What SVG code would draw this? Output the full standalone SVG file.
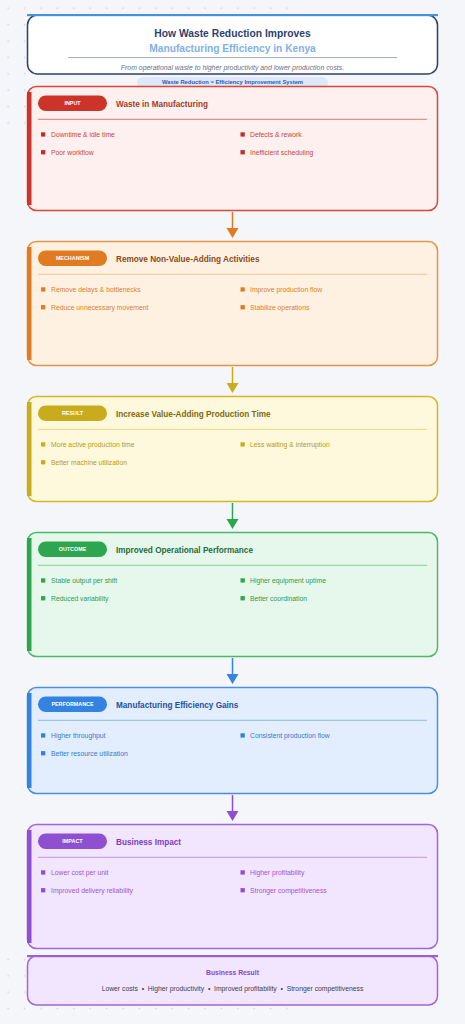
<svg xmlns="http://www.w3.org/2000/svg" width="465" height="1024" viewBox="0 0 465 1024">
<defs>
<pattern id="dots" x="0" y="0" width="16.4" height="16.4" patternUnits="userSpaceOnUse">
<path d="M8.2 7.2v2M7.2 8.2h2" stroke="#d3d9e8" stroke-width="0.9"/>
</pattern>
<style>
text{font-family:"Liberation Sans",Arial,sans-serif}
.pill{font-size:5.4px;font-weight:bold;fill:#fff;text-anchor:middle}
.ttl{font-size:8.2px;font-weight:bold}
.it{font-size:6.8px}
</style>
</defs>
<rect width="465" height="1024" fill="#f5f6fa"/>
<rect x="0" y="0" width="295" height="132" fill="url(#dots)"/>
<rect x="0" y="948" width="295" height="76" fill="url(#dots)"/>

<g id="header">
<rect x="27.5" y="15" width="410" height="59" rx="10" fill="#fff" stroke="#2d3f6e" stroke-width="1.5"/>
<rect x="27" y="14" width="411" height="2.2" fill="#4a90e2"/>
<text x="232.5" y="36.7" text-anchor="middle" font-size="10.3" font-weight="bold" fill="#2d3f6e">How Waste Reduction Improves</text>
<text x="232.5" y="51.7" text-anchor="middle" font-size="10.2" font-weight="bold" fill="#7fb0ec">Manufacturing Efficiency in Kenya</text>
<line x1="68" y1="57.6" x2="397" y2="57.6" stroke="#8a8fa6" stroke-width="0.8"/>
<text x="232.5" y="69.5" text-anchor="middle" font-size="6.9" font-style="italic" fill="#6b6f80">From operational waste to higher productivity and lower production costs.</text>
</g>

<g id="system-badge">
<rect x="137" y="77" width="191" height="11" rx="5.5" fill="#dde9fb"/>
<text x="232.5" y="84.2" text-anchor="middle" font-size="5.8" font-weight="bold" fill="#2a5bb5">Waste Reduction = Efficiency Improvement System</text>
</g>

<g id="connectors" stroke-width="1.5">
<line x1="232.5" y1="212" x2="232.5" y2="229" stroke="#e07b22"/>
<polygon points="226.5,228 238.5,228 232.5,238" fill="#e07b22"/>
<line x1="232.5" y1="367" x2="232.5" y2="384" stroke="#c9ac1e"/>
<polygon points="226.5,383 238.5,383 232.5,393" fill="#c9ac1e"/>
<line x1="232.5" y1="503" x2="232.5" y2="520" stroke="#2ea64f"/>
<polygon points="226.5,519 238.5,519 232.5,529" fill="#2ea64f"/>
<line x1="232.5" y1="658" x2="232.5" y2="675" stroke="#3583e0"/>
<polygon points="226.5,674 238.5,674 232.5,684" fill="#3583e0"/>
<line x1="232.5" y1="795" x2="232.5" y2="812" stroke="#8e4fd1"/>
<polygon points="226.5,811 238.5,811 232.5,821" fill="#8e4fd1"/>
</g>

<g id="input" transform="translate(0,86)">
<rect x="27.5" y="0.5" width="410" height="124" rx="9" fill="#fff0f0" stroke="#d9473b" stroke-width="1.5"/>
<rect x="27" y="6" width="4.5" height="113" fill="#cc3329"/>
<rect x="38" y="9.5" width="69" height="15.5" rx="7.75" fill="#cc3329"/>
<text class="pill" x="72.5" y="19.2">INPUT</text>
<text class="ttl" x="116" y="20.5" fill="#a33b26">Waste in Manufacturing</text>
<line x1="38" y1="33.3" x2="427" y2="33.3" stroke="#e06a5e" stroke-width="0.9"/>
<g fill="#c0302a"><rect x="41" y="46.3" width="4.3" height="4.3"/><rect x="41" y="64.1" width="4.3" height="4.3"/><rect x="240.5" y="46.3" width="4.3" height="4.3"/><rect x="240.5" y="64.1" width="4.3" height="4.3"/></g>
<g class="it" fill="#c9453c"><text x="51" y="50.9">Downtime &amp; idle time</text><text x="51" y="68.7">Poor workflow</text><text x="250" y="50.9">Defects &amp; rework</text><text x="250" y="68.7">Inefficient scheduling</text></g>
</g>

<g id="mechanism" transform="translate(0,241)">
<rect x="27.5" y="0.5" width="410" height="124" rx="9" fill="#fff1e2" stroke="#e59448" stroke-width="1.5"/>
<rect x="27" y="6" width="4.5" height="113" fill="#e07b22"/>
<rect x="38" y="9.5" width="69" height="15.5" rx="7.75" fill="#e07b22"/>
<text class="pill" x="72.5" y="19.2">MECHANISM</text>
<text class="ttl" x="116" y="20.5" fill="#8a4a17">Remove Non-Value-Adding Activities</text>
<line x1="38" y1="33.3" x2="427" y2="33.3" stroke="#f3bd86" stroke-width="0.9"/>
<g fill="#e07b22"><rect x="41" y="46.3" width="4.3" height="4.3"/><rect x="41" y="64.1" width="4.3" height="4.3"/><rect x="240.5" y="46.3" width="4.3" height="4.3"/><rect x="240.5" y="64.1" width="4.3" height="4.3"/></g>
<g class="it" fill="#d9822b"><text x="51" y="50.9">Remove delays &amp; bottlenecks</text><text x="51" y="68.7">Reduce unnecessary movement</text><text x="250" y="50.9">Improve production flow</text><text x="250" y="68.7">Stabilize operations</text></g>
</g>

<g id="result" transform="translate(0,396)">
<rect x="27.5" y="0.5" width="410" height="105" rx="9" fill="#fef9dc" stroke="#d4b82c" stroke-width="1.5"/>
<rect x="27" y="6" width="4.5" height="94" fill="#c9ac1e"/>
<rect x="38" y="9.5" width="69" height="15.5" rx="7.75" fill="#c9ac1e"/>
<text class="pill" x="72.5" y="19.2">RESULT</text>
<text class="ttl" x="116" y="20.5" fill="#7d6a10">Increase Value-Adding Production Time</text>
<line x1="38" y1="33.3" x2="427" y2="33.3" stroke="#e8d577" stroke-width="0.9"/>
<g fill="#c9ac1e"><rect x="41" y="46.3" width="4.3" height="4.3"/><rect x="41" y="64.1" width="4.3" height="4.3"/><rect x="240.5" y="46.3" width="4.3" height="4.3"/></g>
<g class="it" fill="#b89a17"><text x="51" y="50.9">More active production time</text><text x="51" y="68.7">Better machine utilization</text><text x="250" y="50.9">Less waiting &amp; interruption</text></g>
</g>

<g id="outcome" transform="translate(0,532)">
<rect x="27.5" y="0.5" width="410" height="124" rx="9" fill="#e6f8ec" stroke="#4cb86a" stroke-width="1.5"/>
<rect x="27" y="6" width="4.5" height="113" fill="#2ea64f"/>
<rect x="38" y="9.5" width="69" height="15.5" rx="7.75" fill="#2ea64f"/>
<text class="pill" x="72.5" y="19.2">OUTCOME</text>
<text class="ttl" x="116" y="20.5" fill="#1d6b3a">Improved Operational Performance</text>
<line x1="38" y1="33.3" x2="427" y2="33.3" stroke="#7ccc93" stroke-width="0.9"/>
<g fill="#2ea64f"><rect x="41" y="46.3" width="4.3" height="4.3"/><rect x="41" y="64.1" width="4.3" height="4.3"/><rect x="240.5" y="46.3" width="4.3" height="4.3"/><rect x="240.5" y="64.1" width="4.3" height="4.3"/></g>
<g class="it" fill="#2e9a4e"><text x="51" y="50.9">Stable output per shift</text><text x="51" y="68.7">Reduced variability</text><text x="250" y="50.9">Higher equipment uptime</text><text x="250" y="68.7">Better coordination</text></g>
</g>

<g id="performance" transform="translate(0,687)">
<rect x="27.5" y="0.5" width="410" height="106" rx="9" fill="#e2eefd" stroke="#4a90e2" stroke-width="1.5"/>
<rect x="27" y="6" width="4.5" height="95" fill="#3583e0"/>
<rect x="38" y="9.5" width="69" height="15.5" rx="7.75" fill="#3583e0"/>
<text class="pill" x="72.5" y="19.2">PERFORMANCE</text>
<text class="ttl" x="116" y="20.5" fill="#1f4e9e">Manufacturing Efficiency Gains</text>
<line x1="38" y1="33.3" x2="427" y2="33.3" stroke="#7fb2ec" stroke-width="0.9"/>
<g fill="#3583e0"><rect x="41" y="46.3" width="4.3" height="4.3"/><rect x="41" y="64.1" width="4.3" height="4.3"/><rect x="240.5" y="46.3" width="4.3" height="4.3"/></g>
<g class="it" fill="#3a78c9"><text x="51" y="50.9">Higher throughput</text><text x="51" y="68.7">Better resource utilization</text><text x="250" y="50.9">Consistent production flow</text></g>
</g>

<g id="impact" transform="translate(0,824)">
<rect x="27.5" y="0.5" width="410" height="124" rx="9" fill="#f2e6fe" stroke="#a066da" stroke-width="1.5"/>
<rect x="27" y="6" width="4.5" height="113" fill="#8e4fd1"/>
<rect x="38" y="9.5" width="69" height="15.5" rx="7.75" fill="#8e4fd1"/>
<text class="pill" x="72.5" y="19.2">IMPACT</text>
<text class="ttl" x="116" y="20.5" fill="#7b3cc4">Business Impact</text>
<line x1="38" y1="33.3" x2="427" y2="33.3" stroke="#b98ae6" stroke-width="0.9"/>
<g fill="#8e4fd1"><rect x="41" y="46.3" width="4.3" height="4.3"/><rect x="41" y="64.1" width="4.3" height="4.3"/><rect x="240.5" y="46.3" width="4.3" height="4.3"/><rect x="240.5" y="64.1" width="4.3" height="4.3"/></g>
<g class="it" fill="#9b55d6"><text x="51" y="50.9">Lower cost per unit</text><text x="51" y="68.7">Improved delivery reliability</text><text x="250" y="50.9">Higher profitability</text><text x="250" y="68.7">Stronger competitiveness</text></g>
</g>

<g id="business-result">
<rect x="27.5" y="956" width="410" height="49" rx="9" fill="#f1e6fd" stroke="#a066da" stroke-width="1.5"/>
<rect x="27" y="955" width="411" height="2.2" fill="#9b5fd6"/>
<text x="232.5" y="974.5" text-anchor="middle" font-size="6.8" font-weight="bold" fill="#8e44ce">Business Result</text>
<text x="232.5" y="990.5" text-anchor="middle" font-size="6.8" fill="#3a3f52" xml:space="preserve">Lower costs  •  Higher productivity  •  Improved profitability  •  Stronger competitiveness</text>
</g>
</svg>
